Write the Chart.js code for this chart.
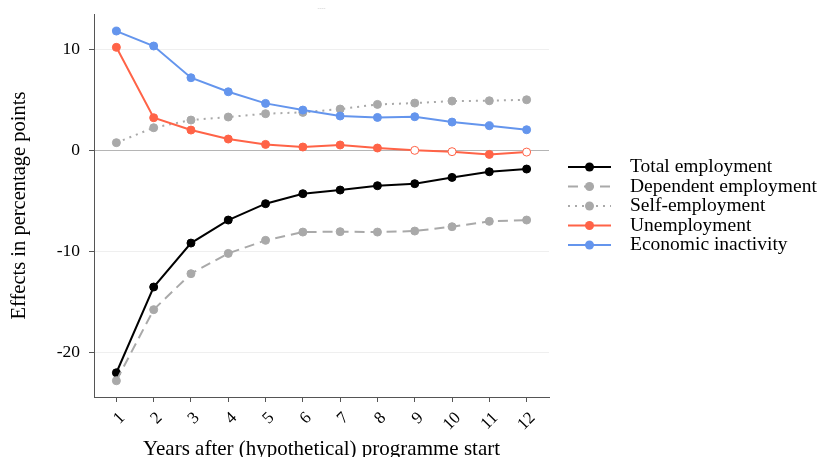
<!DOCTYPE html>
<html><head><meta charset="utf-8">
<script src="https://cdn.jsdelivr.net/npm/chart.js@4/dist/chart.umd.min.js"></script>
<style>html,body{margin:0;padding:0;background:#fff;}#wrap{width:825px;height:457px;}</style>
</head><body><div id="wrap"><canvas id="c" width="825" height="457"></canvas></div>
<script>
const years = [1,2,3,4,5,6,7,8,9,10,11,12];
const seriesNames = ["Total employment","Dependent employment","Self-employment","Unemployment","Economic inactivity"];
const totalEmployment = [-22.05,-13.56,-9.21,-6.93,-5.31,-4.32,-3.96,-3.53,-3.33,-2.71,-2.15,-1.88];
const dependentEmployment = [-22.84,-15.8,-12.24,-10.23,-8.94,-8.12,-8.08,-8.12,-8.02,-7.59,-7.06,-6.93];
const selfEmployment = [0.73,2.21,2.97,3.27,3.6,3.73,4.06,4.52,4.65,4.85,4.88,4.98];
const unemployment = [10.17,3.2,1.98,1.09,0.56,0.3,0.5,0.2,-0.03,-0.16,-0.43,-0.2];
const unemploymentHollow = [false,false,false,false,false,false,false,false,true,true,false,true];
const economicInactivity = [11.78,10.3,7.16,5.77,4.62,3.96,3.37,3.23,3.3,2.77,2.41,2.01];
const yTicks = [-20,-10,0,10];
const xTitle = "Years after (hypothetical) programme start";
const yTitle = "Effects in percentage points";

const SERIF = '"Liberation Serif", "DejaVu Serif", serif';
const pts = arr => arr.map((v,i)=>({x:years[i], y:v}));
const RED = '#FF6347', BLUE = '#6495ED', GRAY = '#A9A9A9';

function ds(label, data, color, dash, order, extra){
  return Object.assign({label, data: pts(data), borderColor: color, backgroundColor: color,
    pointBackgroundColor: color, pointBorderColor: color, borderWidth: 2, borderDash: dash,
    pointRadius: 4, pointBorderWidth: 1, pointHoverRadius: 4, tension: 0, order}, extra||{});
}

const datasets = [
  ds(seriesNames[0], totalEmployment, '#000000', [], 5),
  ds(seriesNames[1], dependentEmployment, GRAY, [10,6], 4),
  ds(seriesNames[2], selfEmployment, GRAY, [2,5], 3),
  ds(seriesNames[3], unemployment, RED, [], 2, {pointBackgroundColor: unemploymentHollow.map(h=>h?'#ffffff':RED)}),
  ds(seriesNames[4], economicInactivity, BLUE, [], 1)
];

const legendPlugin = {
  id: 'customLegend',
  afterDraw(chart){
    const ctx = chart.ctx, ca = chart.chartArea;
    const x0 = ca.right + 19, x1 = ca.right + 62, tx = ca.right + 81;
    const y0 = 167, step = 19.5;
    chart.data.datasets.forEach((d,i)=>{
      const y = y0 + i*step;
      ctx.save();
      ctx.strokeStyle = d.borderColor; ctx.lineWidth = d.borderWidth;
      ctx.setLineDash(d.borderDash||[]);
      ctx.beginPath(); ctx.moveTo(x0,y); ctx.lineTo(x1,y); ctx.stroke();
      ctx.setLineDash([]);
      ctx.fillStyle = d.borderColor;
      ctx.beginPath(); ctx.arc((x0+x1)/2, y, 4.5, 0, Math.PI*2); ctx.fill();
      ctx.fillStyle = '#000'; ctx.font = '19.5px ' + SERIF;
      ctx.textAlign = 'left'; ctx.textBaseline = 'middle';
      ctx.fillText(d.label, tx, y);
      ctx.restore();
    });
    // faint empty-title artifact centred above the plot
    ctx.save();
    ctx.fillStyle = '#c8c8c8'; ctx.font = '6px ' + SERIF;
    ctx.textAlign = 'center'; ctx.textBaseline = 'middle';
    ctx.fillText('----', (ca.left + ca.right)/2, 8);
    ctx.restore();
  }
};

new Chart(document.getElementById('c'), {
  type: 'line',
  data: { datasets },
  options: {
    responsive: false, animation: false, devicePixelRatio: 1,
    layout: { padding: { top: 14, right: 276, left: 0, bottom: 0 } },
    plugins: { legend: { display: false }, tooltip: { enabled: false }, title: { display: false } },
    scales: {
      x: {
        type: 'linear', min: 0.4, max: 12.6,
        afterBuildTicks: s => { s.ticks = years.map(v=>({value:v})); },
        afterFit: s => { s.height = 60; s.paddingLeft = 0; s.paddingRight = 0; },
        grid: { drawOnChartArea: false, tickLength: 5, color: '#555', tickColor: '#555' },
        border: { color: '#555', width: 1 },
        ticks: { minRotation: 45, maxRotation: 45, color: '#000', font: { size: 17, family: SERIF }, padding: 6,
          labelOffset: c => (c && c.tick && String(c.tick.value).length > 1 ? 11 : 6),
          callback: v => String(v) },
        title: { display: true, text: xTitle, color: '#000', font: { size: 21, family: SERIF, lineHeight: 0.7 }, padding: { top: 0, bottom: 0 } }
      },
      y: {
        min: -24.45, max: 13.47,
        afterBuildTicks: s => { s.ticks = yTicks.map(v=>({value:v})); },
        afterFit: s => { s.width = 94; s.paddingTop = 0; s.paddingBottom = 0; },
        grid: { color: c => (c && c.tick && c.tick.value === 0) ? '#b5b5b5' : '#efefef', tickLength: 5, tickColor: '#555', lineWidth: 1 },
        border: { color: '#555', width: 1 },
        ticks: { color: '#000', font: { size: 17.5, family: SERIF }, padding: 9, callback: v => String(v) },
        title: { display: true, text: yTitle, color: '#000', font: { size: 20.5, family: SERIF }, padding: { top: 7, bottom: 0 } }
      }
    }
  },
  plugins: [legendPlugin]
});
</script></body></html>
